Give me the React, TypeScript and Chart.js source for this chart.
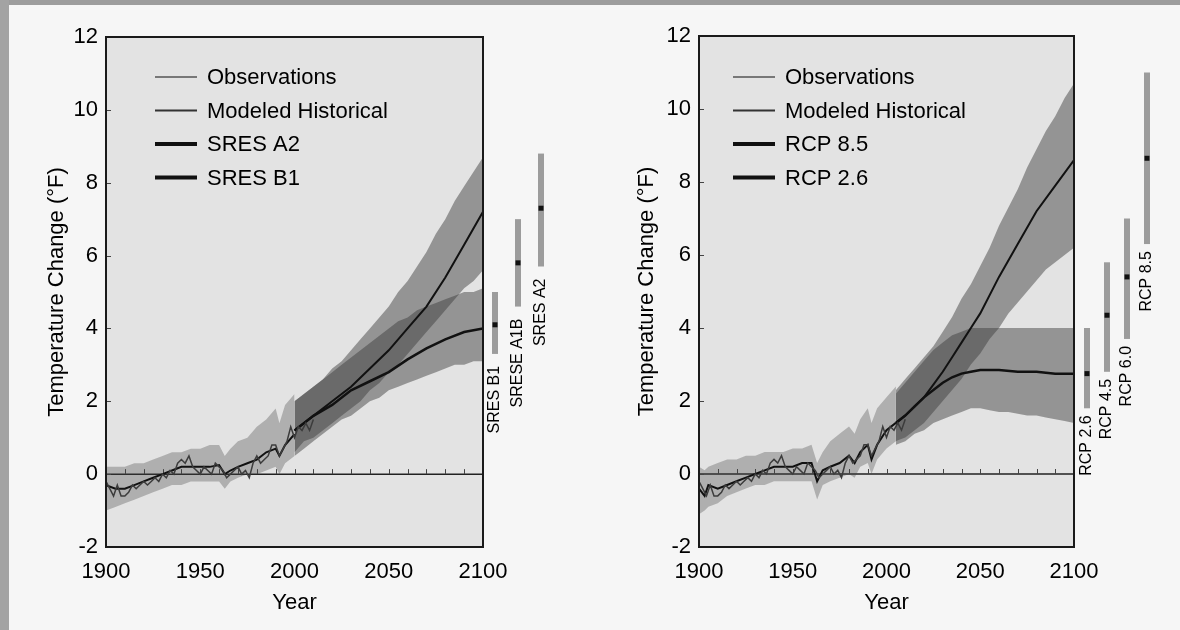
import React, { useEffect, useRef } from "react";
import { Chart, registerables } from "chart.js";

Chart.register(...registerables);

// ---------- shared observations ----------
const obsYears = [1900, 1902, 1904, 1906, 1908, 1910, 1912, 1914, 1916, 1918, 1920, 1922, 1924, 1926, 1928, 1930, 1932, 1934, 1936, 1938, 1940, 1942, 1944, 1946, 1948, 1950, 1952, 1954, 1956, 1958, 1960, 1962, 1964, 1966, 1968, 1970, 1972, 1974, 1976, 1978, 1980, 1982, 1984, 1986, 1988, 1990, 1992, 1994, 1996, 1998, 2000, 2002, 2004, 2006, 2008, 2010];
const obsValues = [-0.2, -0.4, -0.6, -0.3, -0.6, -0.6, -0.5, -0.3, -0.4, -0.3, -0.2, -0.3, -0.2, -0.1, -0.2, 0.0, -0.1, 0.1, 0.0, 0.3, 0.4, 0.3, 0.5, 0.2, 0.1, 0.0, 0.2, 0.1, 0.0, 0.3, 0.2, 0.1, -0.1, 0.0, 0.1, 0.2, 0.0, 0.1, -0.1, 0.3, 0.5, 0.3, 0.4, 0.5, 0.8, 0.8, 0.5, 0.7, 0.9, 1.3, 1.0, 1.3, 1.2, 1.4, 1.2, 1.5];

// ---------- left panel (SRES) ----------
const sresHistYears = [1900, 1905, 1910, 1915, 1920, 1925, 1930, 1935, 1940, 1945, 1950, 1955, 1960, 1963, 1966, 1970, 1975, 1980, 1985, 1990, 1992, 1995, 2000];
const sresHistMean = [-0.3, -0.4, -0.4, -0.3, -0.2, -0.1, 0.0, 0.1, 0.2, 0.2, 0.2, 0.2, 0.25, 0.0, 0.1, 0.2, 0.3, 0.4, 0.6, 0.7, 0.5, 0.8, 1.1];
const sresHistLow = [-1.0, -0.9, -0.8, -0.7, -0.6, -0.5, -0.4, -0.3, -0.3, -0.2, -0.2, -0.2, -0.2, -0.4, -0.2, -0.1, 0.0, 0.0, 0.1, 0.2, 0.0, 0.3, 0.5];
const sresHistHigh = [0.2, 0.2, 0.2, 0.3, 0.3, 0.4, 0.5, 0.6, 0.6, 0.7, 0.7, 0.8, 0.8, 0.5, 0.7, 0.9, 1.0, 1.3, 1.5, 1.8, 1.4, 1.9, 2.2];

const sresBandYears = [2000, 2005, 2010, 2015, 2020, 2025, 2030, 2035, 2040, 2045, 2050, 2055, 2060, 2065, 2070, 2075, 2080, 2085, 2090, 2095, 2100];
const a2Low = [0.6, 0.9, 1.0, 1.2, 1.4, 1.6, 1.8, 2.0, 2.3, 2.5, 2.8, 3.0, 3.3, 3.6, 3.9, 4.2, 4.5, 4.8, 5.1, 5.3, 5.6];
const a2High = [2.0, 2.2, 2.4, 2.6, 2.9, 3.1, 3.4, 3.7, 4.0, 4.3, 4.6, 5.0, 5.3, 5.7, 6.1, 6.6, 7.0, 7.5, 7.9, 8.3, 8.7];
const b1Low = [0.5, 0.7, 0.9, 1.1, 1.3, 1.5, 1.6, 1.8, 2.0, 2.1, 2.3, 2.4, 2.5, 2.6, 2.7, 2.8, 2.9, 3.0, 3.0, 3.1, 3.1];
const b1High = [2.0, 2.2, 2.4, 2.6, 2.8, 3.0, 3.2, 3.4, 3.6, 3.8, 4.0, 4.2, 4.3, 4.5, 4.6, 4.7, 4.8, 4.9, 5.0, 5.0, 5.1];

const sresLineYears = [2000, 2010, 2020, 2030, 2040, 2050, 2060, 2070, 2080, 2090, 2100];
const a2Mean = [1.2, 1.6, 2.0, 2.4, 2.9, 3.4, 4.0, 4.6, 5.4, 6.3, 7.2];
const b1Mean = [1.2, 1.6, 1.9, 2.3, 2.55, 2.8, 3.15, 3.45, 3.7, 3.9, 4.0];

const sresRangeLabels = ["SRES B1", "SRESE A1B", "SRES A2"];
const sresRangeLow = [3.3, 4.6, 5.7];
const sresRangeMid = [4.1, 5.8, 7.3];
const sresRangeHigh = [5.0, 7.0, 8.8];

// ---------- right panel (RCP) ----------
const rcpHistYears = [1900, 1903, 1905, 1910, 1915, 1920, 1925, 1930, 1935, 1940, 1945, 1950, 1955, 1960, 1963, 1966, 1970, 1975, 1980, 1983, 1986, 1990, 1992, 1995, 2000, 2005];
const rcpHistMean = [-0.4, -0.6, -0.3, -0.4, -0.3, -0.2, -0.1, 0.0, 0.1, 0.2, 0.2, 0.2, 0.3, 0.3, -0.2, 0.1, 0.2, 0.3, 0.5, 0.3, 0.6, 0.8, 0.4, 0.8, 1.2, 1.4];
const rcpHistLow = [-1.1, -1.0, -0.9, -0.8, -0.6, -0.5, -0.4, -0.3, -0.3, -0.2, -0.2, -0.2, -0.2, -0.2, -0.7, -0.3, -0.2, -0.1, 0.0, -0.1, 0.2, 0.3, 0.0, 0.4, 0.7, 0.9];
const rcpHistHigh = [0.2, 0.1, 0.2, 0.3, 0.4, 0.4, 0.5, 0.5, 0.6, 0.6, 0.6, 0.7, 0.7, 0.8, 0.3, 0.6, 0.9, 1.1, 1.3, 1.1, 1.5, 1.8, 1.4, 1.8, 2.1, 2.4];

const rcpBandYears = [2005, 2010, 2015, 2020, 2025, 2030, 2035, 2040, 2045, 2050, 2055, 2060, 2065, 2070, 2075, 2080, 2085, 2090, 2095, 2100];
const rcp85Low = [0.9, 1.0, 1.2, 1.4, 1.7, 2.0, 2.3, 2.6, 3.0, 3.3, 3.7, 4.0, 4.4, 4.7, 5.0, 5.3, 5.6, 5.8, 6.0, 6.2];
const rcp85High = [2.3, 2.6, 2.9, 3.2, 3.5, 3.9, 4.3, 4.8, 5.2, 5.7, 6.2, 6.8, 7.3, 7.8, 8.4, 8.9, 9.4, 9.8, 10.3, 10.7];
const rcp26Low = [0.8, 0.9, 1.1, 1.2, 1.4, 1.5, 1.6, 1.7, 1.8, 1.8, 1.75, 1.7, 1.7, 1.65, 1.6, 1.6, 1.55, 1.5, 1.45, 1.4];
const rcp26High = [2.2, 2.5, 2.8, 3.1, 3.4, 3.6, 3.8, 3.9, 4.0, 4.0, 4.0, 4.0, 4.0, 4.0, 4.0, 4.0, 4.0, 4.0, 4.0, 4.0];

const rcpLineYears = [2005, 2010, 2015, 2020, 2025, 2030, 2035, 2040, 2045, 2050, 2060, 2070, 2080, 2090, 2100];
const rcp85Mean = [1.4, 1.6, 1.85, 2.1, 2.45, 2.8, 3.2, 3.6, 4.0, 4.4, 5.4, 6.3, 7.2, 7.9, 8.6];
const rcp26Mean = [1.4, 1.6, 1.85, 2.1, 2.3, 2.5, 2.65, 2.75, 2.8, 2.85, 2.85, 2.8, 2.8, 2.75, 2.75];

const rcpRangeLabels = ["RCP 2.6", "RCP 4.5", "RCP 6.0", "RCP 8.5"];
const rcpRangeLow = [1.8, 2.8, 3.7, 6.3];
const rcpRangeMid = [2.75, 4.35, 5.4, 8.65];
const rcpRangeHigh = [4.0, 5.8, 7.0, 11.0];

// ---------- axis ----------
const yearMin = 1900;
const yearMax = 2100;
const tempMin = -2;
const tempMax = 12;
const yTitle = "Temperature Change (°F)";
const xTitle = "Year";

const FONT = "'Liberation Sans', Arial, Helvetica, sans-serif";

const pts = (xs: number[], ys: number[]) => xs.map((x, i) => ({ x, y: ys[i] }));

type DecorCfg = {
  legendX: number;
  legendY: number;
  legendGap: number;
  rangeLabels: string[];
  rangeLow: number[];
  rangeMid: number[];
  rangeHigh: number[];
  rangeOffset: number;
  rangeSpacing: number;
  labelGap: number;
};

function makeDecor(cfg: DecorCfg) {
  return {
    id: "decor",
    beforeDraw(chart: any) {
      const { ctx, chartArea: a } = chart;
      ctx.save();
      ctx.fillStyle = "#e3e3e3";
      ctx.fillRect(a.left, a.top, a.right - a.left, a.bottom - a.top);
      ctx.restore();
    },
    beforeDatasetsDraw(chart: any) {
      const { ctx, chartArea: a, scales } = chart;
      const y0 = scales.y.getPixelForValue(0);
      ctx.save();
      ctx.strokeStyle = "#222";
      ctx.lineWidth = 1.5;
      ctx.beginPath();
      ctx.moveTo(a.left, y0);
      ctx.lineTo(a.right, y0);
      ctx.stroke();
      ctx.lineWidth = 1;
      ctx.strokeStyle = "#444";
      for (let yr = yearMin + 10; yr < yearMax; yr += 10) {
        const px = Math.round(scales.x.getPixelForValue(yr)) + 0.5;
        ctx.beginPath();
        ctx.moveTo(px, y0);
        ctx.lineTo(px, y0 - 5);
        ctx.stroke();
      }
      // small inward y ticks
      scales.y.ticks.forEach((t: any) => {
        const py = Math.round(scales.y.getPixelForValue(t.value)) + 0.5;
        ctx.beginPath();
        ctx.moveTo(a.left, py);
        ctx.lineTo(a.left + 5, py);
        ctx.stroke();
      });
      ctx.restore();
    },
    afterDatasetsDraw(chart: any) {
      const { ctx, chartArea: a, scales } = chart;
      ctx.save();
      // frame
      ctx.strokeStyle = "#1a1a1a";
      ctx.lineWidth = 2;
      ctx.strokeRect(a.left, a.top, a.right - a.left, a.bottom - a.top);

      // range bars
      cfg.rangeLabels.forEach((lab, i) => {
        const x = a.right + cfg.rangeOffset + i * cfg.rangeSpacing;
        const yTop = scales.y.getPixelForValue(cfg.rangeHigh[i]);
        const yBot = scales.y.getPixelForValue(cfg.rangeLow[i]);
        const yMid = scales.y.getPixelForValue(cfg.rangeMid[i]);
        ctx.fillStyle = "#9c9c9c";
        ctx.fillRect(x - 3, yTop, 6, yBot - yTop);
        ctx.fillStyle = "#111";
        ctx.fillRect(x - 2.5, yMid - 2.5, 5, 5);
        ctx.save();
        ctx.translate(x, yBot + cfg.labelGap);
        ctx.rotate(-Math.PI / 2);
        ctx.font = `16px ${FONT}`;
        ctx.fillStyle = "#000";
        ctx.textAlign = "right";
        ctx.textBaseline = "middle";
        ctx.fillText(lab, 0, 0);
        ctx.restore();
      });

      // legend
      const items = chart.data.datasets.filter((d: any) => d.legendLabel);
      items.forEach((d: any, i: number) => {
        const y = cfg.legendY + i * cfg.legendGap;
        ctx.strokeStyle = d.legendColor;
        ctx.lineWidth = d.legendWidth;
        ctx.beginPath();
        ctx.moveTo(cfg.legendX, y);
        ctx.lineTo(cfg.legendX + 42, y);
        ctx.stroke();
        ctx.fillStyle = "#000";
        ctx.font = `22px ${FONT}`;
        ctx.textAlign = "left";
        ctx.textBaseline = "middle";
        ctx.fillText(d.legendLabel, cfg.legendX + 52, y + 1);
      });
      ctx.restore();
    },
  };
}

type PanelSpec = {
  histYears: number[];
  histMean: number[];
  histLow: number[];
  histHigh: number[];
  bandYears: number[];
  hiLow: number[];
  hiHigh: number[];
  loLow: number[];
  loHigh: number[];
  lineYears: number[];
  hiMean: number[];
  loMean: number[];
  hiLabel: string;
  loLabel: string;
  axisWidth: number;
  padRight: number;
  padTop: number;
  decor: DecorCfg;
};

function buildConfig(p: PanelSpec): any {
  const histFill = "rgba(70,70,70,0.33)";
  const projFill = "rgba(60,60,60,0.47)";
  const band = (lo: number[], hi: number[], xs: number[], color: string) => [
    {
      data: pts(xs, hi),
      fill: "+1",
      backgroundColor: color,
      borderWidth: 0,
      pointRadius: 0,
      order: 5,
    },
    {
      data: pts(xs, lo),
      fill: false,
      borderWidth: 0,
      pointRadius: 0,
      order: 5,
    },
  ];
  return {
    type: "line",
    data: {
      datasets: [
        {
          data: pts(obsYears, obsValues),
          borderColor: "#3c3c3c",
          borderWidth: 1.5,
          pointRadius: 0,
          fill: false,
          order: 1,
          legendLabel: "Observations",
          legendColor: "#555",
          legendWidth: 1.5,
        },
        {
          data: pts(p.histYears, p.histMean),
          borderColor: "#111",
          borderWidth: 2,
          pointRadius: 0,
          fill: false,
          order: 1,
          legendLabel: "Modeled Historical",
          legendColor: "#333",
          legendWidth: 2,
        },
        {
          data: pts(p.lineYears, p.hiMean),
          borderColor: "#111",
          borderWidth: 2,
          pointRadius: 0,
          fill: false,
          order: 1,
          legendLabel: p.hiLabel,
          legendColor: "#111",
          legendWidth: 4,
        },
        {
          data: pts(p.lineYears, p.loMean),
          borderColor: "#111",
          borderWidth: 2.5,
          pointRadius: 0,
          fill: false,
          order: 1,
          legendLabel: p.loLabel,
          legendColor: "#111",
          legendWidth: 4,
        },
        ...band(p.histLow, p.histHigh, p.histYears, histFill),
        ...band(p.hiLow, p.hiHigh, p.bandYears, projFill),
        ...band(p.loLow, p.loHigh, p.bandYears, projFill),
      ],
    },
    options: {
      animation: false,
      responsive: false,
      devicePixelRatio: 1,
      layout: { padding: { top: p.padTop, right: p.padRight, left: 0, bottom: 0 } },
      elements: { line: { tension: 0 } },
      plugins: { legend: { display: false }, tooltip: { enabled: false } },
      scales: {
        x: {
          type: "linear",
          min: yearMin,
          max: yearMax,
          grid: { display: false, drawTicks: false },
          border: { display: false },
          ticks: {
            stepSize: 50,
            padding: 12,
            color: "#000",
            font: { family: FONT, size: 22 },
            maxRotation: 0,
            callback: (v: number) => String(v),
          },
          title: {
            display: true,
            text: xTitle,
            color: "#000",
            font: { family: FONT, size: 22 },
            padding: { top: 0, bottom: 14 },
          },
          afterFit: (s: any) => {
            s.height = 83;
          },
        },
        y: {
          type: "linear",
          min: tempMin,
          max: tempMax,
          grid: { display: false, drawTicks: false },
          border: { display: false },
          ticks: {
            stepSize: 2,
            padding: 8,
            color: "#000",
            font: { family: FONT, size: 22 },
          },
          title: {
            display: true,
            text: yTitle,
            color: "#000",
            font: { family: FONT, size: 22 },
            padding: { top: 44, bottom: 0 },
          },
          afterFit: (s: any) => {
            s.width = p.axisWidth;
          },
        },
      },
    },
    plugins: [makeDecor(p.decor)],
  };
}

const leftSpec: PanelSpec = {
  histYears: sresHistYears,
  histMean: sresHistMean,
  histLow: sresHistLow,
  histHigh: sresHistHigh,
  bandYears: sresBandYears,
  hiLow: a2Low,
  hiHigh: a2High,
  loLow: b1Low,
  loHigh: b1High,
  lineYears: sresLineYears,
  hiMean: a2Mean,
  loMean: b1Mean,
  hiLabel: "SRES A2",
  loLabel: "SRES B1",
  axisWidth: 106,
  padRight: 107,
  padTop: 37,
  decor: {
    legendX: 155,
    legendY: 77,
    legendGap: 33.5,
    rangeLabels: sresRangeLabels,
    rangeLow: sresRangeLow,
    rangeMid: sresRangeMid,
    rangeHigh: sresRangeHigh,
    rangeOffset: 12,
    rangeSpacing: 23,
    labelGap: 12,
  },
};

const rightSpec: PanelSpec = {
  histYears: rcpHistYears,
  histMean: rcpHistMean,
  histLow: rcpHistLow,
  histHigh: rcpHistHigh,
  bandYears: rcpBandYears,
  hiLow: rcp85Low,
  hiHigh: rcp85High,
  loLow: rcp26Low,
  loHigh: rcp26High,
  lineYears: rcpLineYears,
  hiMean: rcp85Mean,
  loMean: rcp26Mean,
  hiLabel: "RCP 8.5",
  loLabel: "RCP 2.6",
  axisWidth: 109,
  padRight: 106,
  padTop: 36,
  decor: {
    legendX: 143,
    legendY: 77,
    legendGap: 33.5,
    rangeLabels: rcpRangeLabels,
    rangeLow: rcpRangeLow,
    rangeMid: rcpRangeMid,
    rangeHigh: rcpRangeHigh,
    rangeOffset: 13,
    rangeSpacing: 20,
    labelGap: 7,
  },
};

function Panel({ spec }: { spec: PanelSpec }) {
  const ref = useRef<HTMLCanvasElement>(null);
  useEffect(() => {
    const chart = new Chart(ref.current as HTMLCanvasElement, buildConfig(spec));
    return () => chart.destroy();
  }, [spec]);
  return (
    <canvas
      ref={ref}
      width={590}
      height={630}
      style={{ display: "block", width: 590, height: 630 }}
    />
  );
}

export default function App() {
  return (
    <div
      style={{
        position: "absolute",
        left: 0,
        top: 0,
        width: 1180,
        height: 630,
        background: "#f6f6f6",
        overflow: "hidden",
      }}
    >
      <div style={{ position: "absolute", left: 0, top: 0, width: 1180, height: 5, background: "#9d9d9d" }} />
      <div style={{ position: "absolute", left: 0, top: 0, width: 9, height: 630, background: "#a3a3a3" }} />
      <div style={{ position: "absolute", left: 0, top: 0, display: "flex" }}>
        <Panel spec={leftSpec} />
        <Panel spec={rightSpec} />
      </div>
    </div>
  );
}
